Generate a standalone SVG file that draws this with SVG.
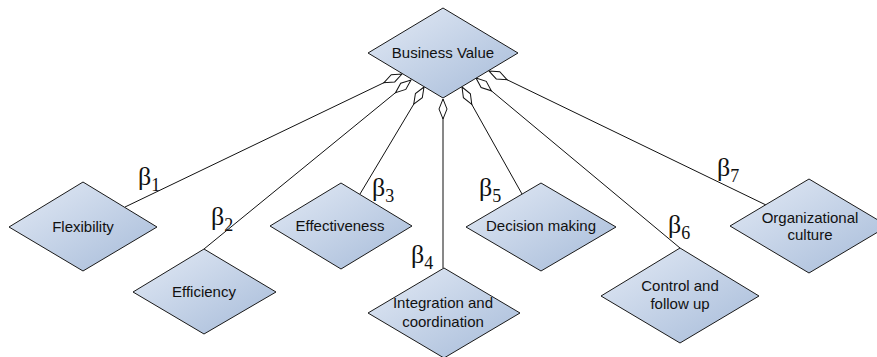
<svg xmlns="http://www.w3.org/2000/svg" width="877" height="357" viewBox="0 0 877 357">
<style>
.node{stroke:#1a1a1a;stroke-width:1;fill:url(#shade)}
.lbl{font-family:"Liberation Sans",Arial,sans-serif;font-size:15px;fill:#111;text-anchor:middle}
.conn line{stroke:#111;stroke-width:1;fill:none;marker-start:url(#agg)}
.beta{font-family:"Liberation Serif","Times New Roman",serif;font-size:26px;fill:#111}
.sub{font-size:18px}
</style>
<defs>
<linearGradient id="shade" x1="0" y1="0" x2="1" y2="1">
<stop offset="0" stop-color="#e3eaf5"/>
<stop offset="1" stop-color="#a6bbd9"/>
</linearGradient>
<marker id="agg" markerUnits="userSpaceOnUse" markerWidth="24" markerHeight="12" viewBox="-1 -6 24 12" refX="0" refY="0" orient="auto">
<path d="M0,0 L10,-4 L20,0 L10,4 Z" fill="#fff" stroke="#111" stroke-width="1"/>
</marker>
</defs>
<rect width="877" height="357" fill="#fff"/>
<g id="connectors" class="conn">
<line x1="402" y1="74" x2="125" y2="207"/>
<line x1="411" y1="80" x2="204" y2="249"/>
<line x1="424" y1="87" x2="360" y2="194"/>
<line x1="443" y1="99" x2="443" y2="268"/>
<line x1="462" y1="87" x2="522" y2="194"/>
<line x1="476" y1="78" x2="680" y2="248"/>
<line x1="489" y1="71" x2="766" y2="205"/>
</g>
<g id="business-value">
<polygon class="node" points="368,53 443,8 518,53 443,98"/>
<text class="lbl" x="443" y="58">Business Value</text>
</g>
<g id="flexibility">
<polygon class="node" points="9,227 83,182 157,227 83,271"/>
<text class="lbl" x="83" y="232">Flexibility</text>
</g>
<g id="efficiency">
<polygon class="node" points="133,292 204,249 276,292 204,334"/>
<text class="lbl" x="204" y="297">Efficiency</text>
</g>
<g id="effectiveness">
<polygon class="node" points="270,226 341,183 412,226 341,269"/>
<text class="lbl" x="340" y="231">Effectiveness</text>
</g>
<g id="integration">
<polygon class="node" points="368,313 444,268 520,313 444,358"/>
<text class="lbl" x="443" y="308">Integration and</text>
<text class="lbl" x="443" y="327">coordination</text>
</g>
<g id="decision-making">
<polygon class="node" points="466,227 541,183 616,227 541,271"/>
<text class="lbl" x="541" y="231">Decision making</text>
</g>
<g id="control">
<polygon class="node" points="601,296 680,248 759,296 680,343"/>
<text class="lbl" x="680" y="291">Control and</text>
<text class="lbl" x="680" y="309">follow up</text>
</g>
<g id="organizational-culture">
<polygon class="node" points="730,226 809,179 888,226 809,273"/>
<text class="lbl" x="810" y="223">Organizational</text>
<text class="lbl" x="810" y="240">culture</text>
</g>
<g id="beta-labels">
<text class="beta" x="138" y="185">β<tspan class="sub" dy="6">1</tspan></text>
<text class="beta" x="211" y="225">β<tspan class="sub" dy="6">2</tspan></text>
<text class="beta" x="372" y="196">β<tspan class="sub" dy="6">3</tspan></text>
<text class="beta" x="411" y="263">β<tspan class="sub" dy="6">4</tspan></text>
<text class="beta" x="479" y="196">β<tspan class="sub" dy="6">5</tspan></text>
<text class="beta" x="668" y="233">β<tspan class="sub" dy="6">6</tspan></text>
<text class="beta" x="717" y="176">β<tspan class="sub" dy="6">7</tspan></text>
</g>
</svg>
